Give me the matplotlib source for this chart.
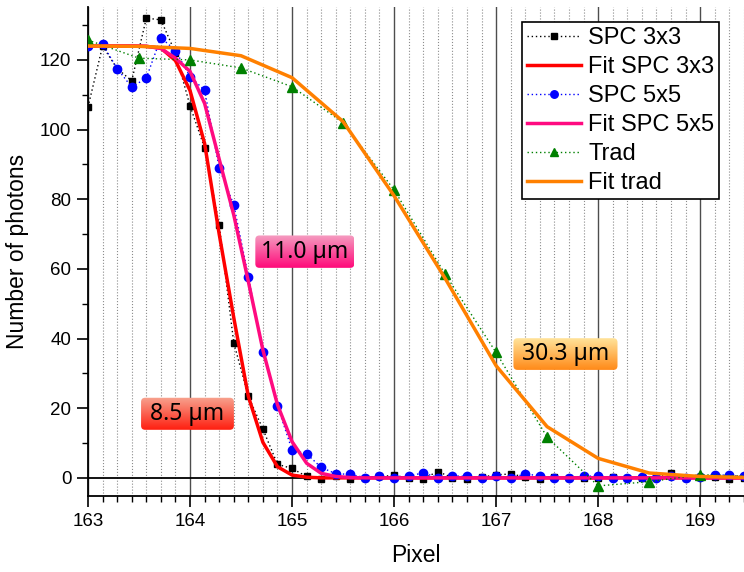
import matplotlib
matplotlib.use("Agg")
import matplotlib.pyplot as plt
import numpy as np
from matplotlib.patches import FancyBboxPatch
from matplotlib.colors import LinearSegmentedColormap
from matplotlib.ticker import MultipleLocator

plt.rcParams["font.family"] = ["Liberation Sans", "DejaVu Sans"]

# Datos: perfiles de borde (SPC muestreado cada 1/7 de pixel, trad cada 1/2)
pixel_spc = 163 + np.arange(46) / 7

spc3 = [106.5, 124.0, 117.5, 114.0, 132.0, 131.5, 122.0, 106.8, 94.7, 72.6,
        38.8, 23.4, 14.0, 3.9, 2.7, 0.4, -0.2, 0.5, -0.3, 0.0,
        0.4, 0.7, 0.0, -0.2, 1.8, 0.1, -0.2, 0.2, 0.9, 1.1,
        0.3, -0.3, 0.2, 0.0, 0.1, 0.0, 0.2, -0.1, 0.0, 0.3,
        1.5, 0.0, 0.2, 0.3, -0.3, 0.1]
fit3 = [124.0, 124.0, 124.0, 124.0, 123.9, 123.4, 119.8, 111.2, 96.0, 70.0,
        46.0, 23.4, 10.2, 3.2, 0.8, 0.2, 0.0, 0.0, 0.0, 0.0,
        0.0, 0.0, 0.0, 0.0, 0.0, 0.0, 0.0, 0.0, 0.0, 0.0,
        0.0, 0.0, 0.0, 0.0, 0.0, 0.0, 0.0, 0.0, 0.0, 0.0,
        0.0, 0.0, 0.0, 0.0, 0.0, 0.0]
spc5 = [124.0, 124.5, 117.5, 112.2, 114.8, 126.4, 122.7, 115.2, 111.3, 88.9,
        78.4, 57.8, 36.1, 20.7, 8.0, 6.9, 3.0, 1.2, 1.0, 0.1,
        0.4, 0.0, 0.4, 1.5, 0.0, 0.6, 0.4, 0.0, 0.4, 0.0,
        1.1, 0.6, 0.0, 0.0, 0.4, 0.6, 0.0, 0.0, 0.2, 0.0,
        0.4, 0.0, 0.2, 0.9, 0.7, 0.4]
fit5 = [124.0, 124.0, 124.0, 124.0, 123.9, 123.3, 120.5, 116.7, 107.5, 91.5,
        75.5, 56.4, 36.7, 21.0, 10.4, 4.2, 1.3, 0.4, 0.1, 0.0,
        0.0, 0.0, 0.0, 0.0, 0.0, 0.0, 0.0, 0.0, 0.0, 0.0,
        0.0, 0.0, 0.0, 0.0, 0.0, 0.0, 0.0, 0.0, 0.0, 0.0,
        0.0, 0.0, 0.0, 0.0, 0.0, 0.0]

pixel_trad = [163.0, 163.5, 164.0, 164.5, 165.0, 165.5, 166.0,
              166.5, 167.0, 167.5, 168.0, 168.5, 169.0, 169.5]
trad = [125.7, 120.5, 120.0, 117.7, 112.3, 102.0, 82.7,
        58.5, 36.0, 11.7, -2.3, -1.1, 0.9, 0.5]
fit_trad = [124.0, 123.9, 123.3, 121.2, 114.9, 102.3, 81.0,
            57.3, 32.2, 14.7, 5.6, 1.4, 0.4, 0.1]

anchos = ["8.5 µm", "11.0 µm", "30.3 µm"]

fig = plt.figure(figsize=(7.44, 5.72), dpi=100)
ax = fig.add_axes([0.1183, 0.1329, 0.8817, 0.8549])

xlim = (163, 169.43)
ylim = (-5.2, 135.2)

ax.axhline(0, color='black', lw=1.3, zorder=1)

ax.plot(pixel_spc, spc3, linestyle=(0, (1, 2)), color='black', lw=1.0,
        marker='s', markersize=5, label="SPC 3x3", zorder=3)
ax.plot(pixel_spc, fit3, '-', color='#ff0000', lw=2.5, label="Fit SPC 3x3", zorder=3)
ax.plot(pixel_spc, spc5, linestyle=(0, (1, 2)), color='#0000ff', lw=1.0,
        marker='o', markersize=6, label="SPC 5x5", zorder=3)
ax.plot(pixel_spc, fit5, '-', color='#ff0a80', lw=2.5, label="Fit SPC 5x5", zorder=3)
ax.plot(pixel_trad, trad, linestyle=(0, (1, 2)), color='#008000', lw=1.0,
        marker='^', markersize=7, label="Trad", zorder=3)
ax.plot(pixel_trad, fit_trad, '-', color='#ff8000', lw=2.5, label="Fit trad", zorder=3)

ax.set_xlim(*xlim)
ax.set_ylim(*ylim)

# ejes
ax.xaxis.set_major_locator(MultipleLocator(1))
ax.xaxis.set_minor_locator(MultipleLocator(1 / 7))
ax.yaxis.set_major_locator(MultipleLocator(20))
ax.yaxis.set_minor_locator(MultipleLocator(10))
ax.tick_params(which='major', direction='out', length=8, width=1.2, labelsize=13.5, pad=4)
ax.tick_params(which='minor', direction='out', length=4.5, width=1.0)
ax.grid(which='major', axis='x', color='0.3', lw=1.0)
ax.grid(which='minor', axis='x', color='0.55', ls=':', lw=0.8)
ax.set_axisbelow(True)
for s in ['top', 'right']:
    ax.spines[s].set_visible(False)
for s in ['left', 'bottom']:
    ax.spines[s].set_linewidth(1.3)

ax.set_xlabel('Pixel', fontsize=16.5, labelpad=10)
ax.set_ylabel('Number of photons', fontsize=16.5, labelpad=8)

leg = ax.legend(loc='upper right', bbox_to_anchor=(0.962, 0.969), borderaxespad=0,
                fontsize=17, fancybox=False, framealpha=1, edgecolor='black',
                handlelength=2.3, handletextpad=0.3, labelspacing=0.3,
                borderpad=0.2, markerscale=0.9)
leg.get_frame().set_linewidth(1.2)
leg.set_zorder(10)

# relacion de escala pixel-x / pixel-y para redondear esquinas
fw, fh = fig.get_size_inches() * fig.dpi
px_x = fw * 0.8817 / (xlim[1] - xlim[0])
px_y = fh * 0.8549 / (ylim[1] - ylim[0])
asp = px_x / px_y


def etiqueta(x0, x1, y0, y1, texto, c_top, c_bot):
    caja = FancyBboxPatch((x0, y0), x1 - x0, y1 - y0,
                          boxstyle="round,pad=0,rounding_size=0.04",
                          mutation_aspect=asp, transform=ax.transData,
                          facecolor='none', edgecolor='none')
    ax.add_patch(caja)
    cmap = LinearSegmentedColormap.from_list('g', [c_top, c_bot])
    grad = np.linspace(0, 1, 64)[:, None]
    im = ax.imshow(grad, extent=(x0, x1, y0, y1), origin='upper', cmap=cmap,
                   aspect='auto', zorder=6, interpolation='bilinear')
    im.set_clip_path(caja)
    ax.text((x0 + x1) / 2, (y0 + y1) / 2, texto, ha='center', va='center',
            fontsize=16.5, family='Noto Sans', color='black', zorder=7)


etiqueta(163.52, 164.43, 13.8, 23.0, anchos[0], '#f7a38f', '#ff1f10')
etiqueta(164.64, 165.61, 60.3, 69.6, anchos[1], '#f59cc0', '#ff0a7a')
etiqueta(167.17, 168.19, 31.0, 40.1, anchos[2], '#ffe39a', '#ff8a18')

ax.set_xlim(*xlim)
ax.set_ylim(*ylim)

plt.savefig('out.png', dpi=100)
